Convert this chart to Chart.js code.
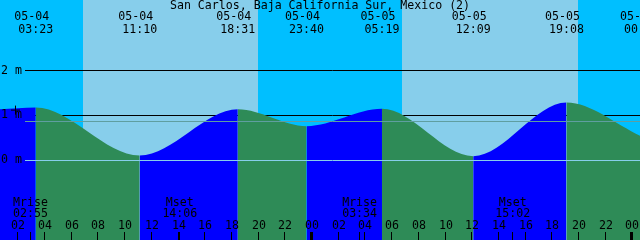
<!DOCTYPE html>
<html><head><meta charset="utf-8">
<script src="https://cdn.jsdelivr.net/npm/chart.js@4.4.0/dist/chart.umd.min.js"></script>
<style>html,body{margin:0;padding:0;background:#00BFFF;overflow:hidden}canvas{display:block}</style>
</head><body><canvas id="c" width="640" height="240"></canvas>
<script>
// ---- data ----
const title = 'San Carlos, Baja California Sur, Mexico (2)';
// tide curve: hours since 05-04 00:00 and height in metres
const curveHours   = [0.70, 3.383, 11.167, 18.517, 23.667, 29.317, 36.15, 43.133, 48.75];
const curveHeights = [1.13, 1.17,  0.09,   1.13,   0.75,   1.14,   0.075,  1.28,   0.52];
// high / low labels along the top
const extremeDates = ['05-04','05-04','05-04','05-04','05-05','05-05','05-05','05-06'];
const extremeTimes = ['03:23','11:10','18:31','23:40','05:19','12:09','19:08','00:45'];
// moon events along the bottom
const moonNames = ['Mrise','Mset','Mrise','Mset'];
const moonDates = ['05-04','05-04','05-05','05-05'];
const moonTimes = ['02:55','14:06','03:34','15:02'];
// daylight bands
const dayStartDates = ['05-04','05-05'];
const dayStartTimes = ['06:55','06:49'];
const dayEndTimes   = ['20:02','19:59'];
// axis ticks
const heightTicks = [0, 1, 2];
const hourTicks = [2,4,6,8,10,12,14,16,18,20,22,24,26,28,30,32,34,36,38,40,42,44,46,48];
const meanLevel = 0.876;
const markHour = [1.865];
const markHeight = [1.11];

const FONT = '11.6px "DejaVu Sans Mono"';
function toHours(date, time){
  const day = parseInt(date.split('-')[1],10) - 4;
  const [hh, mm] = time.split(':').map(Number);
  return day*24 + hh + mm/60;
}
const pad2 = n => (n<10?'0':'')+n;

const overlay = {
  id: 'overlay',
  beforeDraw(chart){
    const {ctx, scales:{x}} = chart;
    ctx.save();
    ctx.fillStyle = '#00BFFF';
    ctx.fillRect(0,0,chart.width,chart.height);
    ctx.fillStyle = '#87CEEB';
    dayStartTimes.forEach((t,i)=>{
      const a = Math.round(x.getPixelForValue(toHours(dayStartDates[i], t)));
      const b = Math.round(x.getPixelForValue(toHours(dayStartDates[i], dayEndTimes[i])));
      ctx.fillRect(a,0,b-a,chart.height);
    });
    ctx.restore();
  },
  beforeDatasetsDraw(chart){
    const {ctx, scales:{y}} = chart;
    ctx.save();
    ctx.strokeStyle = '#000'; ctx.lineWidth = 1;
    heightTicks.filter(h=>h>0).forEach(h=>{
      const py = Math.round(y.getPixelForValue(h)) + 0.5;
      ctx.beginPath(); ctx.moveTo(25,py); ctx.lineTo(chart.width,py); ctx.stroke();
    });
    ctx.restore();
  },
  afterDatasetsDraw(chart){
    const {ctx, scales:{x,y}} = chart;
    ctx.save();
    ctx.lineWidth = 1;
    // mean level and datum lines over the water
    let py = Math.round(y.getPixelForValue(meanLevel)) + 0.5;
    ctx.strokeStyle = '#5F9EA0';
    ctx.beginPath(); ctx.moveTo(25,py); ctx.lineTo(chart.width,py); ctx.stroke();
    py = Math.round(y.getPixelForValue(0)) + 0.5;
    ctx.strokeStyle = '#87CEEB';
    ctx.beginPath(); ctx.moveTo(25,py); ctx.lineTo(chart.width,py); ctx.stroke();

    ctx.fillStyle = '#000'; ctx.strokeStyle = '#000';
    ctx.font = FONT; ctx.textBaseline = 'middle';
    // title
    ctx.textAlign = 'center';
    ctx.fillText(title, 320, 6);
    // extremes
    extremeTimes.forEach((t,i)=>{
      const px = x.getPixelForValue(toHours(extremeDates[i], t));
      ctx.fillText(extremeDates[i], px-4, 17);
      ctx.fillText(t, px, 29.5);
    });
    // height labels
    ctx.textAlign = 'left';
    heightTicks.forEach(h=>{
      ctx.fillText(h+' m', 1, y.getPixelForValue(h));
    });
    // hour ticks
    ctx.textAlign = 'center';
    hourTicks.forEach(h=>{
      const px = Math.round(x.getPixelForValue(h));
      if (h % 24 === 0) ctx.fillRect(px-1, 232, 3, 8);
      else ctx.fillRect(px, 232, 1, 8);
      ctx.fillText(pad2(h%24), px+1, 225.5);
    });
    // moon events
    moonTimes.forEach((t,i)=>{
      const px = x.getPixelForValue(toHours(moonDates[i], t));
      ctx.fillRect(Math.round(px), 232, 1, 8);
      ctx.fillText(moonNames[i], px+1, 202.5);
      ctx.fillText(t, px+1, 213.7);
    });
    ctx.restore();
  }
};

new Chart(document.getElementById('c'), {
  type: 'line',
  data: {
    datasets: [
      {
        type: 'scatter',
        data: markHour.map((h,i)=>({x:h, y:markHeight[i]})),
        pointStyle: 'cross', pointRadius: 4.5, borderColor: '#000', borderWidth: 1,
        backgroundColor: '#000', showLine: false, order: 0
      },
      {
        data: curveHours.map((h,i)=>({x:h, y:curveHeights[i]})),
        borderColor: 'rgba(0,0,0,0)', borderWidth: 0, pointRadius: 0,
        fill: 'start', backgroundColor: '#2E8B57',
        cubicInterpolationMode: 'monotone',
        segment: {
          backgroundColor: c => c.p1.parsed.y > c.p0.parsed.y ? '#0000FF' : '#2E8B57'
        },
        order: 1
      }
    ]
  },
  options: {
    responsive: false, animation: false, devicePixelRatio: 1,
    layout: {padding: 0, autoPadding: false},
    plugins: {legend: {display:false}, tooltip: {enabled:false}, title: {display:false}},
    events: [],
    scales: {
      x: {type:'linear', min: 9.4/13.35, max: 649.4/13.35, display:false},
      y: {type:'linear', min: -80.5/44.5, max: 159.5/44.5, display:false}
    }
  },
  plugins: [overlay]
});
</script>
</body></html>
